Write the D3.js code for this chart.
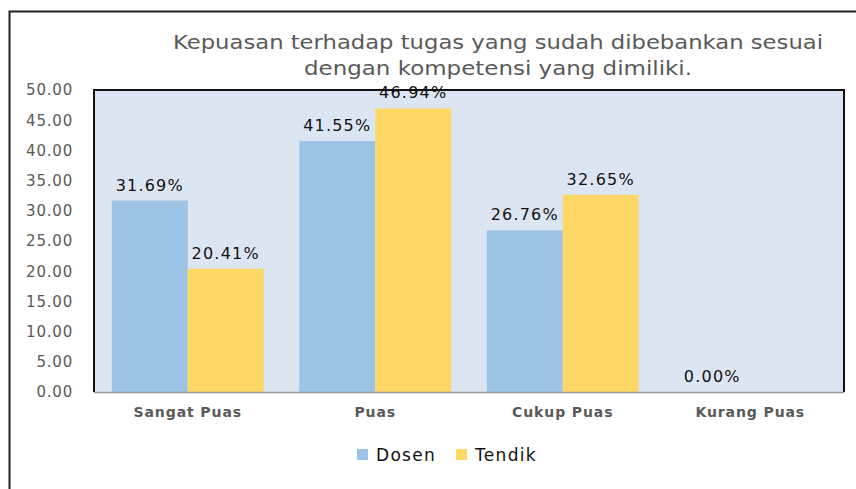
<!DOCTYPE html>
<html>
<head>
<meta charset="utf-8">
<script src="https://cdn.jsdelivr.net/npm/d3@7"></script>
<style>
  body { margin: 0; background: #fff; }
  svg { display: block; font-family: "DejaVu Sans", sans-serif; }
</style>
</head>
<body>
<svg id="chart"></svg>
<script>
// values
const categories = ['Sangat Puas', 'Puas', 'Cukup Puas', 'Kurang Puas'];
const seriesNames = ['Dosen', 'Tendik'];
const dosen = [31.69, 41.55, 26.76, 0];
const tendik = [20.41, 46.94, 32.65, null];
const yTicks = [0, 5, 10, 15, 20, 25, 30, 35, 40, 45, 50];
const titleLines = ['Kepuasan terhadap tugas yang sudah dibebankan sesuai', 'dengan kompetensi yang dimiliki.'];
const colors = {Dosen: '#9dc3e6', Tendik: '#fed767'};

const WIDTH = 856;
const HEIGHT = 489;
const PLOT = {left: 94, top: 90, right: 844, bottom: 392};

const svg = d3.select('#chart').attr('width', WIDTH).attr('height', HEIGHT);

// outer chart frame
svg.append('rect')
  .attr('x', 9.5).attr('y', 11.5)
  .attr('width', WIDTH).attr('height', HEIGHT)
  .attr('fill', '#fff').attr('stroke', '#222').attr('stroke-width', 2);

const x = d3.scaleBand()
  .domain(categories)
  .range([PLOT.left, PLOT.right])
  .paddingInner(0.19)
  .paddingOuter(0.095);

const xSub = d3.scaleBand()
  .domain(seriesNames)
  .range([0, x.bandwidth()]);

const y = d3.scaleLinear().domain([0, 50]).range([PLOT.bottom, PLOT.top]);

// plot area background
svg.append('rect')
  .attr('x', PLOT.left).attr('y', PLOT.top)
  .attr('width', PLOT.right - PLOT.left).attr('height', PLOT.bottom - PLOT.top)
  .attr('fill', '#dce6f2');

// title (the original font runs wide, so stretch to its measured width)
const titleWidths = [650, 388];
svg.append('g')
  .selectAll('text')
  .data(titleLines)
  .enter()
  .append('text')
  .attr('x', (d, i) => 498 - titleWidths[i] / 2)
  .attr('y', (d, i) => 49 + i * 26)
  .attr('textLength', (d, i) => titleWidths[i])
  .attr('lengthAdjust', 'spacingAndGlyphs')
  .attr('fill', '#595959')
  .style('font-size', '19.5px')
  .text(d => d);

// y axis labels
const yAxis = svg.append('g')
  .attr('transform', `translate(${PLOT.left}, 0)`)
  .call(d3.axisLeft(y).tickValues(yTicks).tickFormat(d3.format('.2f')).tickSize(0).tickPadding(21));
yAxis.select('.domain').remove();
yAxis.selectAll('text')
  .attr('fill', '#595959')
  .style('font-family', '"DejaVu Sans", sans-serif')
  .style('font-size', '15px')
  .style('letter-spacing', '0.8px');

// bars
const rows = categories.map((c, i) => ({cat: c, Dosen: dosen[i], Tendik: tendik[i]}));

const groups = svg.append('g')
  .selectAll('g')
  .data(rows)
  .enter()
  .append('g')
  .attr('transform', d => `translate(${x(d.cat)}, 0)`);

const cells = groups.selectAll('.cell')
  .data(d => seriesNames.map(s => ({series: s, value: d[s]})).filter(v => v.value !== null))
  .enter()
  .append('g')
  .classed('cell', true);

cells.append('rect')
  .attr('x', d => xSub(d.series))
  .attr('width', xSub.bandwidth())
  .attr('y', d => y(d.value))
  .attr('height', d => y(0) - y(d.value))
  .attr('fill', d => colors[d.series]);

// plot area border (top, left, right) and the grey base line
svg.append('path')
  .attr('d', `M${PLOT.left},${PLOT.bottom}V${PLOT.top}H${PLOT.right}V${PLOT.bottom}`)
  .attr('fill', 'none').attr('stroke', '#111').attr('stroke-width', 2);
svg.append('line')
  .attr('x1', PLOT.left).attr('x2', PLOT.right)
  .attr('y1', PLOT.bottom + 0.5).attr('y2', PLOT.bottom + 0.5)
  .attr('stroke', '#999').attr('stroke-width', 1.5);

// value labels
cells.append('text')
  .attr('x', d => xSub(d.series) + xSub.bandwidth() / 2)
  .attr('y', d => y(d.value) - 10)
  .attr('text-anchor', 'middle')
  .attr('fill', '#111')
  .style('font-size', '16px')
  .style('letter-spacing', '1.2px')
  .text(d => d3.format('.2f')(d.value) + '%');

// category labels
svg.append('g')
  .selectAll('text')
  .data(categories)
  .enter()
  .append('text')
  .attr('x', d => x(d) + x.bandwidth() / 2)
  .attr('y', 417)
  .attr('text-anchor', 'middle')
  .attr('fill', '#595959')
  .style('font-weight', 'bold')
  .style('font-size', '14px')
  .style('letter-spacing', '0.9px')
  .text(d => d);

// legend
const legendX = [357, 456];
const legend = svg.append('g')
  .selectAll('g')
  .data(seriesNames)
  .enter()
  .append('g')
  .attr('transform', (d, i) => `translate(${legendX[i]}, 449)`);

legend.append('rect')
  .attr('width', 11).attr('height', 11)
  .attr('fill', d => colors[d]);

legend.append('text')
  .attr('x', 19).attr('y', 12)
  .attr('fill', '#111')
  .style('font-size', '17px')
  .style('letter-spacing', '1.3px')
  .text(d => d);
</script>
</body>
</html>
